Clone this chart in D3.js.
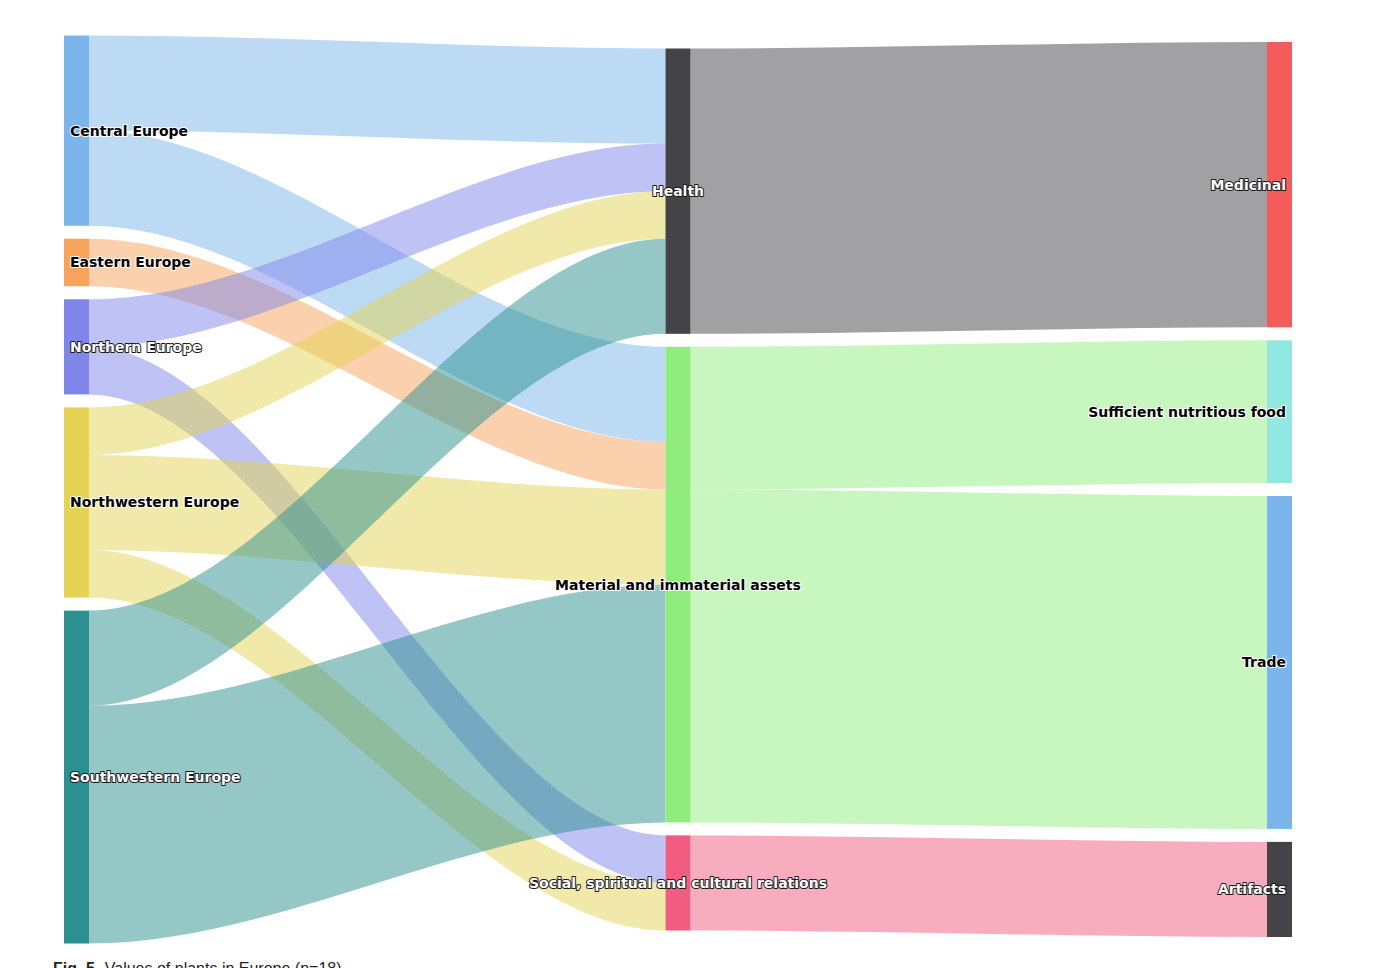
<!DOCTYPE html>
<html>
<head>
<meta charset="utf-8">
<script src="https://cdn.jsdelivr.net/npm/d3@7"></script>
<style>
body { margin: 0; background: #fff; }
</style>
</head>
<body>
<div class="sankey"></div>
<script>
// node columns
var regions = ["Central Europe", "Eastern Europe", "Northern Europe", "Northwestern Europe", "Southwestern Europe"]
var categories = ["Health", "Material and immaterial assets", "Social, spiritual and cultural relations"]
var valueTypes = ["Medicinal", "Sufficient nutritious food", "Trade", "Artifacts"]

// flows
var linkFrom = ["Central Europe", "Central Europe", "Eastern Europe", "Northern Europe", "Northern Europe",
  "Northwestern Europe", "Northwestern Europe", "Northwestern Europe", "Southwestern Europe", "Southwestern Europe",
  "Health", "Material and immaterial assets", "Material and immaterial assets", "Social, spiritual and cultural relations"]
var linkTo = ["Health", "Material and immaterial assets", "Material and immaterial assets", "Health", "Social, spiritual and cultural relations",
  "Health", "Material and immaterial assets", "Social, spiritual and cultural relations", "Health", "Material and immaterial assets",
  "Medicinal", "Sufficient nutritious food", "Trade", "Artifacts"]
var linkValue = [2, 2, 1, 1, 1, 1, 2, 1, 2, 5, 6, 3, 7, 2]

var palette = ["#7cb5ec", "#434348", "#90ed7d", "#f7a35c", "#8085e9", "#f15c80", "#e4d354", "#2b908f", "#f45b5b", "#91e8e1"]

var width = 1392, height = 968
var nodeW = 25, nodePad = 13
var plotTop = 35.5, plotBottom = 943.5

var svg = d3.select(".sankey")
    .append("svg")
    .attr("width", width)
    .attr("height", height)

var columns = [regions, categories, valueTypes]
var nodes = {}
columns.forEach((col, c) => {
  col.forEach(name => {
    nodes[name] = { name: name, col: c, inV: 0, outV: 0, ins: [], outs: [] }
  })
})

// colours handed out in order of first appearance, like the original chart
var colorOrder = []
linkFrom.forEach((s, i) => {
  if (colorOrder.indexOf(s) < 0) colorOrder.push(s)
  if (colorOrder.indexOf(linkTo[i]) < 0) colorOrder.push(linkTo[i])
})
colorOrder.forEach((name, i) => nodes[name].color = palette[i % palette.length])

var links = linkFrom.map((s, i) => ({ source: nodes[s], target: nodes[linkTo[i]], value: linkValue[i] }))
links.forEach(l => {
  l.source.outV += l.value
  l.target.inV += l.value
  l.source.outs.push(l)
  l.target.ins.push(l)
})
Object.values(nodes).forEach(n => n.value = Math.max(n.inV, n.outV))

var x = d3.scalePoint().domain([0, 1, 2]).range([64, 1267])

// px per unit: the fullest column decides
var k = d3.min(columns, col => {
  var sum = d3.sum(col, name => nodes[name].value)
  return (plotBottom - plotTop - (col.length - 1) * nodePad) / sum
})
var y = d3.scaleLinear().domain([0, 1]).range([0, k])
var mid = (plotTop + plotBottom) / 2

columns.forEach((col, c) => {
  var total = y(d3.sum(col, name => nodes[name].value)) + (col.length - 1) * nodePad
  var pos = mid - total / 2
  col.forEach(name => {
    var n = nodes[name]
    n.x0 = x(c)
    n.x1 = x(c) + nodeW
    n.y0 = pos
    n.y1 = pos + y(n.value)
    pos = n.y1 + nodePad
  })
})

Object.values(nodes).forEach(n => {
  var sy = n.y0
  n.outs.sort((a, b) => a.target.y0 - b.target.y0).forEach(l => { l.sy = sy; sy += y(l.value) })
  var ty = n.y0
  n.ins.sort((a, b) => a.source.y0 - b.source.y0).forEach(l => { l.ty = ty; ty += y(l.value) })
})

function band(l) {
  var x0 = l.source.x1, x1 = l.target.x0
  var c = (x1 - x0) * 0.33
  var w = y(l.value)
  var p = d3.path()
  p.moveTo(x0, l.sy)
  p.bezierCurveTo(x0 + c, l.sy, x1 - c, l.ty, x1, l.ty)
  p.lineTo(x1, l.ty + w)
  p.bezierCurveTo(x1 - c, l.ty + w, x0 + c, l.sy + w, x0, l.sy + w)
  p.closePath()
  return p.toString()
}

svg.append("g")
    .selectAll("path")
    .data(links)
    .join("path")
    .attr("d", band)
    .attr("fill", d => d.source.color)
    .attr("fill-opacity", 0.5)

var nodeList = Object.values(nodes)

svg.append("g")
    .selectAll("rect")
    .data(nodeList)
    .join("rect")
    .attr("x", d => d.x0)
    .attr("y", d => d.y0)
    .attr("width", nodeW)
    .attr("height", d => d.y1 - d.y0)
    .attr("fill", d => d.color)

// light nodes get black labels, darker ones white labels with a dark outline
function contrast(col) {
  var c = d3.rgb(col)
  return (c.r * 299 + c.g * 587 + c.b * 114) / 1000 > 155 ? "#000000" : "#ffffff"
}

svg.append("g")
    .selectAll("text")
    .data(nodeList)
    .join("text")
    .attr("x", d => d.col == 0 ? d.x0 + 6 : d.col == 1 ? (d.x0 + d.x1) / 2 : d.x1 - 6)
    .attr("y", d => (d.y0 + d.y1) / 2)
    .attr("dy", "0.35em")
    .attr("text-anchor", d => d.col == 0 ? "start" : d.col == 1 ? "middle" : "end")
    .text(d => d.name)
    .style("font-family", "'DejaVu Sans', sans-serif")
    .style("font-size", "14px")
    .style("font-weight", "bold")
    .attr("fill", d => contrast(d.color))
    .attr("stroke", d => contrast(d.color) == "#ffffff" ? "#1a1a1a" : "#ffffff")
    .attr("stroke-width", 2)
    .attr("stroke-linejoin", "round")
    .attr("paint-order", "stroke")

// caption, cut off by the bottom edge as in the original
var cap = svg.append("text")
    .attr("x", 53)
    .attr("y", 974)
    .style("font-family", "'Liberation Sans', sans-serif")
    .style("font-size", "16px")
    .attr("fill", "#222")
cap.append("tspan").text("Fig. 5").style("font-weight", "bold")
cap.append("tspan").attr("dx", 10).text("Values of plants in Europe (n=18)")
</script>
</body>
</html>
